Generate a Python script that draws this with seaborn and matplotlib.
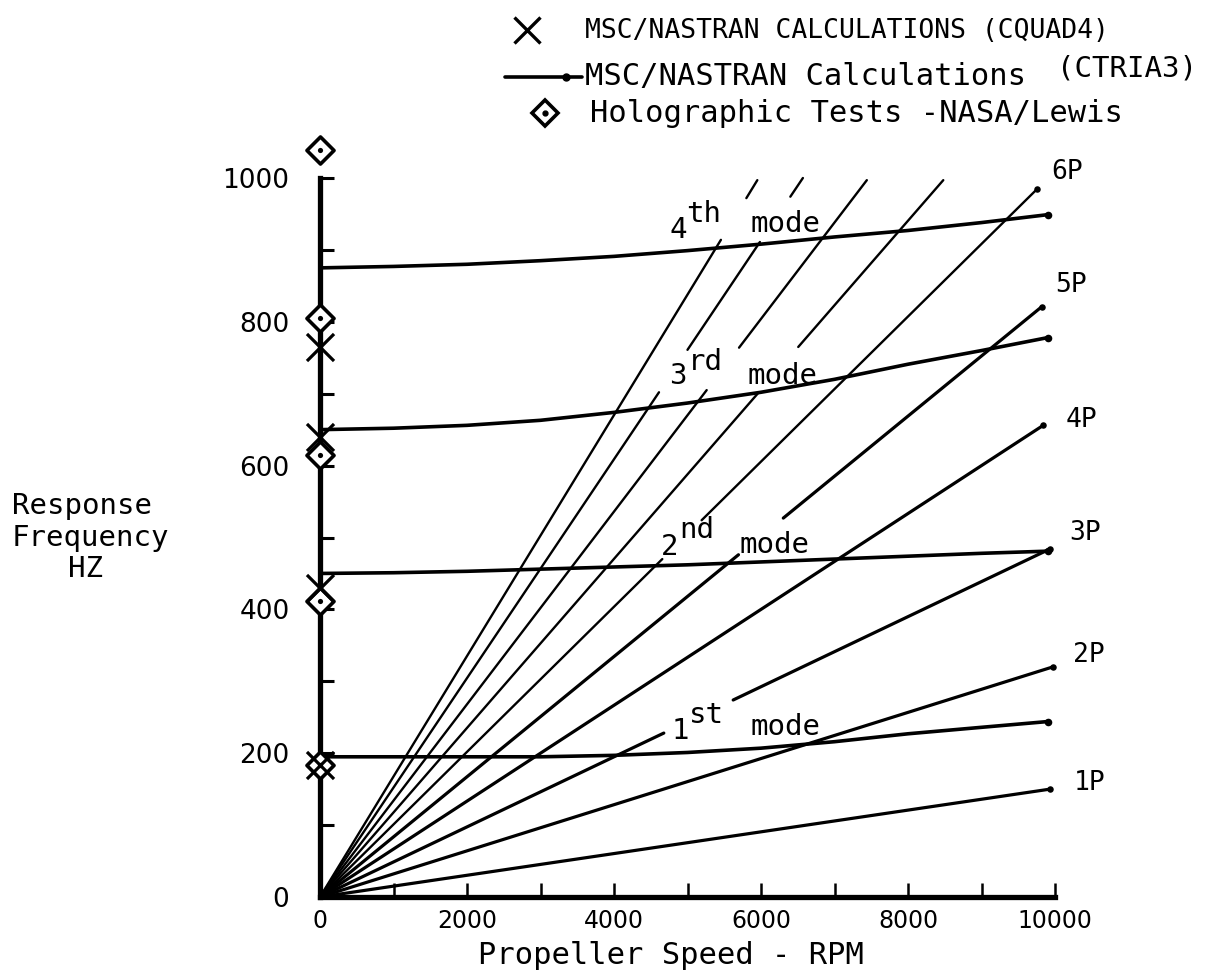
import numpy as np
import pandas as pd
import matplotlib
matplotlib.use("Agg")
import matplotlib.pyplot as plt
import seaborn as sns

# ---------------- data ----------------
# excitation-order lines (nP), straight from the origin
order_names = ["1P", "2P", "3P", "4P", "5P", "6P", "7P", "8P", "9P", "10P"]
order_end_rpm = [9930, 9970, 9930, 9840, 9820, 9760, 8480, 7440, 6570, 5950]
order_end_hz = [150, 320, 484, 656, 821, 985, 997, 997, 1000, 997]
# drawn stretches of each order line (Hz); the original leaves gaps at the labels
order_segments_hz = [
    [(0, 150)],
    [(0, 320)],
    [(0, 228), (274, 484)],
    [(0, 656)],
    [(0, 476), (527, 821)],
    [(0, 470), (524, 985)],
    [(0, 702), (765, 997)],
    [(0, 705), (764, 997)],
    [(0, 702), (761, 911), (974, 1000)],
    [(0, 914), (972, 997)],
]
order_label_rpm = [10250, 10250, 10200, 10150, 10000, 9950]
order_label_hz = [159, 337, 506, 663, 851, 1008]

# blade modes (MSC/NASTRAN CTRIA3 calculations)
mode_rpm = [0, 1000, 2000, 3000, 4000, 5000, 6000, 7000, 8000, 9000, 9900]
mode1_hz = [195, 195, 195, 195, 197, 201, 207, 216, 227, 236, 244]
mode2_hz = [450, 451, 453, 456, 459, 462, 466, 470, 474, 478, 481]
mode3_hz = [650, 652, 656, 663, 674, 687, 702, 720, 741, 760, 778]
mode4_hz = [875, 877, 880, 885, 891, 899, 908, 918, 927, 938, 949]
mode_names = ["1", "2", "3", "4"]
mode_sup = ["st", "nd", "rd", "th"]
mode_digit_pos = [(4898, 231), (4762, 487), (4871, 725), (4871, 928)]
mode_sup_pos = [(5252, 253), (5129, 510), (5238, 744), (5224, 950)]
mode_word_pos = [(6327, 236), (6190, 490), (6286, 725), (6327, 936)]

# measured / calculated frequencies at 0 RPM
cquad4_hz = [765, 640, 430, 184]
holo_hz = [1039, 805, 615, 412, 184]

x_major_ticks = [0, 2000, 4000, 6000, 8000, 10000]
x_minor_ticks = [1000, 3000, 5000, 7000, 9000]
y_major_ticks = [0, 200, 400, 600, 800, 1000]
y_minor_ticks = [100, 300, 500, 700, 900]

# ---------------- figure ----------------
sns.set_style("white")
plt.rcParams["font.family"] = ["DejaVu Sans"]
plt.rcParams["text.color"] = "black"
plt.rcParams["xtick.color"] = "black"
plt.rcParams["ytick.color"] = "black"
plt.rcParams["axes.edgecolor"] = "black"
MONO = "DejaVu Sans Mono"

fig = plt.figure(figsize=(12.1, 9.75), dpi=100)
ax = fig.add_axes([320 / 1210, (975 - 897) / 975, 735 / 1210, 719 / 975])
ax.set_xlim(0, 10000)
ax.set_ylim(0, 1000)

# order lines as segments
rows = []
seg = 0
for i, name in enumerate(order_names):
    k = order_end_rpm[i] / order_end_hz[i]
    for (h0, h1) in order_segments_hz[i]:
        for h in (h0, h1):
            rows.append({"order": name, "seg": seg, "rpm": h * k, "hz": h,
                         "heavy": i < 5})
        seg += 1
orders_df = pd.DataFrame(rows)
sns.lineplot(data=orders_df[orders_df.heavy], x="rpm", y="hz", units="seg",
             estimator=None, sort=False, color="black", linewidth=2.3,
             legend=False, ax=ax, clip_on=False, zorder=2)
sns.lineplot(data=orders_df[~orders_df.heavy], x="rpm", y="hz", units="seg",
             estimator=None, sort=False, color="black", linewidth=1.7,
             legend=False, ax=ax, clip_on=False, zorder=2)
ends_df = pd.DataFrame({"rpm": order_end_rpm[:6], "hz": order_end_hz[:6]})
sns.scatterplot(data=ends_df, x="rpm", y="hz", color="black", s=22,
                marker="o", linewidth=0, ax=ax, clip_on=False, zorder=3)

# mode curves
modes_df = pd.DataFrame({
    "mode": np.repeat(mode_names, len(mode_rpm)),
    "rpm": mode_rpm * 4,
    "hz": mode1_hz + mode2_hz + mode3_hz + mode4_hz,
})
sns.lineplot(data=modes_df, x="rpm", y="hz", units="mode", estimator=None,
             sort=False, color="black", linewidth=2.6, legend=False, ax=ax,
             clip_on=False, zorder=3)
mode_end_df = modes_df[modes_df.rpm == mode_rpm[-1]]
sns.scatterplot(data=mode_end_df, x="rpm", y="hz", color="black", s=30,
                linewidth=0, ax=ax, clip_on=False, zorder=3)

# markers on the frequency axis
sns.scatterplot(x=[0] * len(holo_hz), y=holo_hz, marker="D", s=190,
                facecolor="white", edgecolor="black", linewidth=2.6, ax=ax,
                clip_on=False, zorder=6)
sns.scatterplot(x=[0] * len(holo_hz), y=holo_hz, marker="o", s=14,
                color="black", linewidth=0, ax=ax, clip_on=False, zorder=7)
sns.scatterplot(x=[0] * len(cquad4_hz), y=cquad4_hz, marker="x", s=380,
                color="black", linewidth=2.3, ax=ax, clip_on=False, zorder=7)

# mode labels
for i in range(4):
    ax.text(*mode_digit_pos[i], mode_names[i], ha="center", va="center",
            family=MONO, fontsize=21, zorder=8)
    ax.text(*mode_sup_pos[i], mode_sup[i], ha="center", va="center",
            family=MONO, fontsize=21, zorder=8)
    ax.text(*mode_word_pos[i], "mode", ha="center", va="center",
            family=MONO, fontsize=21, zorder=8)
for i in range(6):
    ax.text(order_label_rpm[i], order_label_hz[i], order_names[i],
            ha="left", va="center", family=MONO, fontsize=19, zorder=8,
            clip_on=False)

# axes styling
sns.despine(ax=ax)
for s in ("left", "bottom"):
    ax.spines[s].set_linewidth(3.8)
    ax.spines[s].set_color("black")
ax.set_xticks(x_major_ticks)
ax.set_xticks(x_minor_ticks, minor=True)
ax.set_yticks(y_major_ticks)
ax.set_yticks(y_minor_ticks, minor=True)
ax.tick_params(axis="x", which="both", direction="in", length=10, width=1.8,
               pad=9, labelsize=17, colors="black", bottom=True, top=False)
ax.tick_params(axis="y", which="both", direction="in", length=10, width=2.2,
               pad=22, labelsize=19, colors="black", left=True, right=False)
ax.set_xlabel("")
ax.set_ylabel("")
for lab in ax.get_xticklabels() + ax.get_yticklabels():
    lab.set_family("DejaVu Sans")
ax.grid(False)
ax.patch.set_alpha(0)

# overlay for titles and legend (pixel coordinates)
ov = fig.add_axes([0, 0, 1, 1], zorder=10)
ov.set_xlim(0, 1210)
ov.set_ylim(975, 0)
ov.axis("off")
ov.patch.set_alpha(0)

ov.text(12, 506, "Response", ha="left", va="center", family=MONO, fontsize=21)
ov.text(12, 538, "Frequency", ha="left", va="center", family=MONO, fontsize=21)
ov.text(68, 569, "HZ", ha="left", va="center", family=MONO, fontsize=21)
ov.text(671, 955, "Propeller Speed - RPM", ha="center", va="center",
        family=MONO, fontsize=22)

ov.plot([527], [30], marker="x", ms=19, mew=2.4, color="black")
ov.text(585, 31, "MSC/NASTRAN CALCULATIONS (CQUAD4)", ha="left", va="center",
        family=MONO, fontsize=19)
ov.plot([505, 582], [77, 77], color="black", lw=2.6)
ov.plot([566], [77], marker="o", ms=5, color="black")
ov.text(585, 77, "MSC/NASTRAN Calculations", ha="left", va="center",
        family=MONO, fontsize=22)
ov.text(1197, 68, "(CTRIA3)", ha="right", va="center", family=MONO, fontsize=21)
ov.plot([545], [113], marker="D", ms=13, mfc="white", mec="black", mew=2.6)
ov.plot([545], [113], marker="o", ms=3.5, color="black")
ov.text(590, 113, "Holographic Tests -NASA/Lewis", ha="left", va="center",
        family=MONO, fontsize=22)

fig.savefig("out.png", dpi=100, facecolor="white")
